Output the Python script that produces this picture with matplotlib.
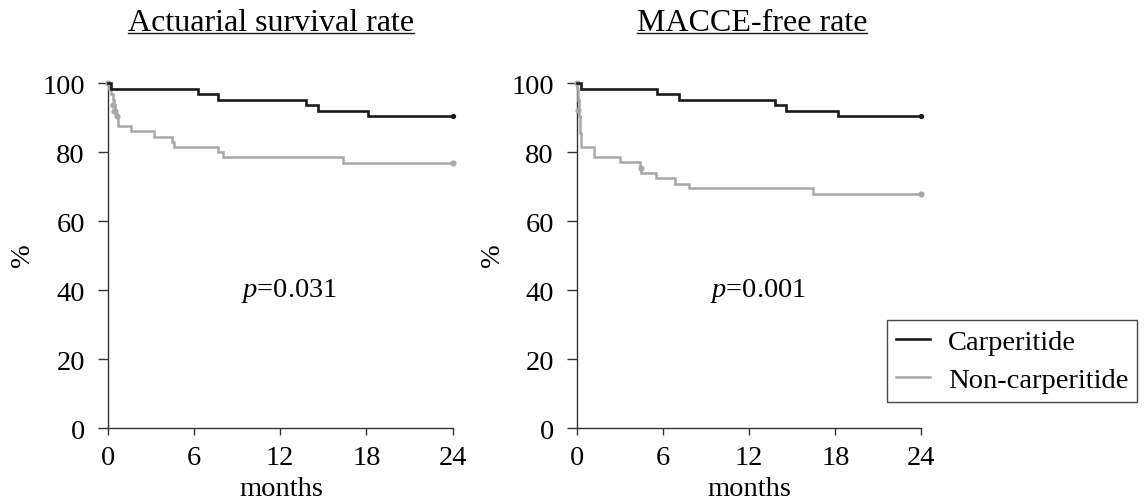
import matplotlib
matplotlib.use('Agg')
import matplotlib.pyplot as plt
from matplotlib.lines import Line2D

plt.rcParams['font.family'] = ['Liberation Serif', 'DejaVu Serif']
plt.rcParams['mathtext.fontset'] = 'custom'
plt.rcParams['mathtext.rm'] = 'Liberation Serif'
plt.rcParams['mathtext.it'] = 'Liberation Serif:italic'

# ---------------- data ----------------
titles = ["Actuarial survival rate", "MACCE-free rate"]
p_values = ["0.031", "0.001"]
series_names = ["Carperitide", "Non-carperitide"]
xticks = [0, 6, 12, 18, 24]
yticks = [0, 20, 40, 60, 80, 100]

# Actuarial survival
surv_carp_t = [0, 0.25, 6.25, 7.7, 13.8, 14.6, 18.1, 24]
surv_carp_s = [100, 98.4, 96.9, 95.2, 93.7, 92.1, 90.4, 90.4]
surv_non_t = [0, 0.1, 0.2, 0.35, 0.42, 0.5, 0.58, 0.74, 1.6, 3.22, 4.5, 4.6, 7.7, 8.0, 16.4, 24]
surv_non_s = [100, 98.4, 96.8, 95.2, 93.6, 92.0, 90.4, 87.7, 86.2, 84.5, 83.0, 81.5, 80.2, 78.5, 76.9, 76.9]
surv_non_cens_t = [0, 0.4, 0.47, 0.54, 0.62, 24]
surv_non_cens_s = [100, 93.6, 92.0, 92.0, 90.4, 76.9]
surv_carp_cens_t = [24]
surv_carp_cens_s = [90.4]

# MACCE-free
macce_carp_t = [0, 0.3, 5.6, 7.1, 13.8, 14.6, 18.2, 24]
macce_carp_s = [100, 98.4, 96.9, 95.2, 93.7, 92.1, 90.4, 90.4]
macce_non_t = [0, 0.03, 0.06, 0.1, 0.13, 0.16, 0.2, 0.24, 0.28, 1.23, 3.03, 4.43, 4.5, 5.52, 6.87, 7.85, 16.43, 24]
macce_non_s = [100, 98.4, 96.8, 95.2, 92.3, 90.4, 88.0, 85.6, 81.4, 78.5, 77.1, 75.4, 74.0, 72.5, 70.8, 69.6, 67.8, 67.8]
macce_non_cens_t = [0, 0.12, 4.45, 24]
macce_non_cens_s = [100, 92.3, 75.4, 67.8]
macce_carp_cens_t = [24]
macce_carp_cens_s = [90.4]

BLACK = '#1a1a1a'
GRAY = '#a8a8a8'
SPINE = '#333333'
FS = 20.5

W, H = 1146, 502
fig = plt.figure(figsize=(W / 100, H / 100), dpi=100)


def rect(x0, x1, ytop, ybot):
    return [x0 / W, 1 - ybot / H, (x1 - x0) / W, (ybot - ytop) / H]


axL = fig.add_axes(rect(107.7, 452.7, 84.3, 429.3))
axR = fig.add_axes(rect(576.7, 921.5, 84.3, 429.3))

panels = [
    (axL, surv_carp_t, surv_carp_s, surv_non_t, surv_non_s,
     surv_carp_cens_t, surv_carp_cens_s, surv_non_cens_t, surv_non_cens_s),
    (axR, macce_carp_t, macce_carp_s, macce_non_t, macce_non_s,
     macce_carp_cens_t, macce_carp_cens_s, macce_non_cens_t, macce_non_cens_s),
]

for i, (ax, ct, cs, nt, ns, cct, ccs, nct, ncs) in enumerate(panels):
    ax.plot(nt, ns, drawstyle='steps-post', color=GRAY, lw=1.8, clip_on=False,
            solid_joinstyle='miter', zorder=3)
    ax.plot(nct, ncs, 'o', color=GRAY, ms=3.4, clip_on=False, zorder=3)
    ax.plot(ct, cs, drawstyle='steps-post', color=BLACK, lw=1.9, clip_on=False,
            solid_joinstyle='miter', zorder=4)
    ax.plot(cct, ccs, 'o', color=BLACK, ms=2.8, clip_on=False, zorder=4)
    ax.set_xlim(0, 24)
    ax.set_ylim(0, 100)
    ax.set_xticks(xticks)
    ax.set_yticks(yticks)
    for s in ['top', 'right']:
        ax.spines[s].set_visible(False)
    for s in ['left', 'bottom']:
        ax.spines[s].set_color(SPINE)
        ax.spines[s].set_linewidth(1.0)
    ax.tick_params(axis='y', length=7.5, width=1.0, color=SPINE, pad=9, labelsize=FS)
    ax.tick_params(axis='x', length=5, width=1.0, color=SPINE, pad=7, labelsize=FS)
    ax.patch.set_visible(False)
    ax.text(12.6, 40, '$p$=' + p_values[i], fontsize=FS, ha='center', va='center')

# axis labels
for cx in [281, 749]:
    fig.text(cx / W, 1 - 490 / H, 'months', fontsize=FS, ha='center', va='center')
for cx in [23, 492]:
    fig.text(cx / W, 1 - 255 / H, '%', fontsize=FS, ha='center', va='center', rotation=90)

# titles with underline
title_texts = []
for cx, t in zip([270.8, 752], titles):
    tt = fig.text(cx / W, 1 - 31 / H, t, fontsize=23, ha='center', va='baseline')
    title_texts.append(tt)

fig.canvas.draw()
renderer = fig.canvas.get_renderer()
for tt in title_texts:
    bb = tt.get_window_extent(renderer)
    yline = (H - 33.5) / H
    fig.add_artist(Line2D([bb.x0 / W, bb.x1 / W], [yline, yline],
                          transform=fig.transFigure, color='#1a1a1a', lw=1.0))

# legend
handles = [Line2D([], [], color=BLACK, lw=1.9), Line2D([], [], color=GRAY, lw=1.8)]
leg = fig.legend(handles, series_names, loc='lower left',
                 bbox_to_anchor=(887 / W, 1 - 403 / H), bbox_transform=fig.transFigure,
                 borderaxespad=0, fontsize=FS, frameon=True, fancybox=False,
                 handlelength=1.2, handletextpad=0.65, labelspacing=0.45,
                 borderpad=0.3)
leg.get_frame().set_edgecolor('#1a1a1a')
leg.get_frame().set_linewidth(1.0)

fig.savefig('out.png', dpi=100)
